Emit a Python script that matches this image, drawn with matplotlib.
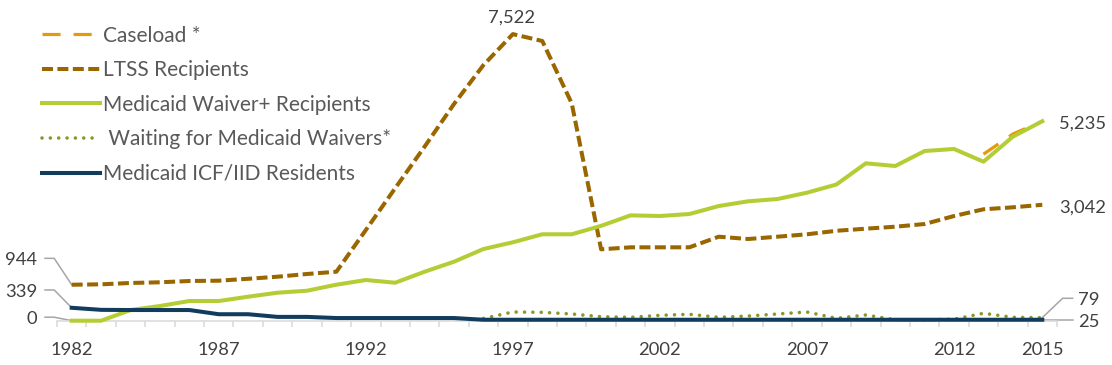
import numpy as np
import matplotlib
matplotlib.use("Agg")
import matplotlib.pyplot as plt

plt.rcParams['font.family'] = ['Lato', 'DejaVu Sans']
plt.rcParams['lines.scale_dashes'] = False

years = list(range(1982, 2016))
nan = np.nan
ltss = [944, 955, 990, 1008, 1042, 1050, 1100, 1155, 1226, 1286,
        2380, 3480, 4570, 5690, 6710, 7522, 7341, 5706,
        1874, 1926, 1926, 1926, 2205, 2144, 2205, 2268,
        2360, 2415, 2467, 2538, 2748, 2924, 2976, 3042]
waiver = [0, 0, 280, 386, 517, 517, 630, 735, 787, 945,
          1068, 997, 1286, 1549, 1882, 2058, 2268, 2268,
          2490, 2765, 2748, 2800, 3010, 3134, 3194, 3360,
          3575, 4131, 4060, 4454, 4507, 4173, 4830, 5235]
icf = [339, 285, 280, 280, 280, 170, 170, 100, 100, 70,
       70, 70, 70, 70, 25, 25, 25, 25,
       25, 25, 25, 25, 25, 25, 25, 25,
       25, 25, 25, 25, 25, 25, 25, 25]
waiting = [nan] * 14 + [60, 228, 220, 176,
                        105, 89, 141, 168, 89, 123, 176, 228,
                        63, 150, 25, 25, 40, 194, 89, 79]
caseload = [nan] * 31 + [4370, 4900, 5235]

tick_years = [1982, 1987, 1992, 1997, 2002, 2007, 2012, 2015]

C_CASE = '#E39B0B'
C_LTSS = '#996600'
C_WAIV = '#B5CD35'
C_WAIT = '#889A27'
C_ICF = '#123C5E'
C_LEAD = '#A6A6A6'
C_TXT = '#404040'

W, H = 1112, 365
fig = plt.figure(figsize=(W / 100, H / 100), dpi=100)
y0_px = 320.7
ppu = 0.0381
ymax = 8000
ax = fig.add_axes([57 / W, (H - y0_px) / H, 1000 / W, ymax * ppu / H])
ax.set_xlim(1981.5, 2015.5)
ax.set_ylim(0, ymax)

lw = 2.9
ax.plot(years, caseload, color=C_CASE, lw=2.3, dashes=(13, 9.4), zorder=2,
        label='Caseload *', clip_on=False)
ax.plot(years, ltss, color=C_LTSS, lw=lw, dashes=(7.9, 3.2), zorder=3,
        label='LTSS Recipients', clip_on=False)
ax.plot(years, waiver, color=C_WAIV, lw=lw, zorder=4,
        label='Medicaid Waiver+ Recipients', clip_on=False)
ax.plot(years, waiting, color=C_WAIT, lw=2.6, dashes=(0.01, 6.0),
        dash_capstyle='round', zorder=5,
        label=' Waiting for Medicaid Waivers*', clip_on=False)
ax.plot(years, icf, color=C_ICF, lw=lw, zorder=6,
        label='Medicaid ICF/IID Residents', clip_on=False)

for s in ['left', 'right', 'top']:
    ax.spines[s].set_visible(False)
ax.spines['bottom'].set_position(('data', 0))
ax.spines['bottom'].set_color('#D9D9D9')
ax.spines['bottom'].set_linewidth(1.1)
ax.set_yticks([])
ax.set_xticks(tick_years)
ax.set_xticklabels([str(y) for y in tick_years])
ax.set_xticks(np.arange(1981.5, 2016, 1.0), minor=True)
fs = 13.2
ax.tick_params(axis='x', which='major', length=0, pad=15,
               labelsize=fs, labelcolor=C_TXT)
ax.tick_params(axis='x', which='minor', length=4.3, width=1.1,
               color='#D9D9D9', direction='out')

lfs = 15
leg = ax.legend(loc='upper left', bbox_to_anchor=(41.7 / W, 1 - 25.5 / H),
                bbox_transform=fig.transFigure, frameon=False,
                borderpad=0, borderaxespad=0, handlelength=2.8,
                handletextpad=0.15, labelspacing=0.70, fontsize=lfs)
for t in leg.get_texts():
    t.set_color('#595959')

fig.canvas.draw()
def leader(x, y, offs):
    px, py = ax.transData.transform((x, y))
    pts = [(px, py)] + [(px + dx, py + dy) for dx, dy in offs]
    dpts = ax.transData.inverted().transform(pts)
    ax.plot(dpts[:, 0], dpts[:, 1], color=C_LEAD, lw=1.1, zorder=1,
            clip_on=False)

left_labels = [(ltss[0], '944', 26.4), (icf[0], '339', 17.8), (waiver[0], '0', 3.5)]
for v, txt, up in left_labels:
    leader(years[0], v, [(-17.5, up), (-26.7, up)])
    ax.annotate(txt, xy=(years[0], v), xytext=(-34.5, up - 2),
                textcoords='offset pixels', ha='right', va='center',
                fontsize=fs, color=C_TXT, annotation_clip=False)

ax.annotate('{:,}'.format(waiver[-1]), xy=(years[-1], waiver[-1]),
            xytext=(17, -2), textcoords='offset pixels', ha='left',
            va='center', fontsize=fs, color=C_TXT, annotation_clip=False)
ax.annotate('{:,}'.format(ltss[-1]), xy=(years[-1], ltss[-1]),
            xytext=(17, -3), textcoords='offset pixels', ha='left',
            va='center', fontsize=fs, color=C_TXT, annotation_clip=False)
leader(years[-1], waiting[-1], [(20.3, 19.4), (30.3, 19.4)])
ax.annotate(str(waiting[-1]), xy=(years[-1], waiting[-1]), xytext=(36, 17.7),
            textcoords='offset pixels', ha='left', va='center', fontsize=fs,
            color=C_TXT, annotation_clip=False)
leader(years[-1], icf[-1], [(30.3, 0)])
ax.annotate(str(icf[-1]), xy=(years[-1], icf[-1]), xytext=(36, -2.7),
            textcoords='offset pixels', ha='left', va='center', fontsize=fs,
            color=C_TXT, annotation_clip=False)

ipk = int(np.argmax(ltss))
ax.annotate('{:,}'.format(ltss[ipk]), xy=(years[ipk], ltss[ipk]),
            xytext=(-1, 16.6), textcoords='offset pixels', ha='center',
            va='center', fontsize=fs, color=C_TXT, annotation_clip=False)

fig.savefig('out.png', dpi=100)
